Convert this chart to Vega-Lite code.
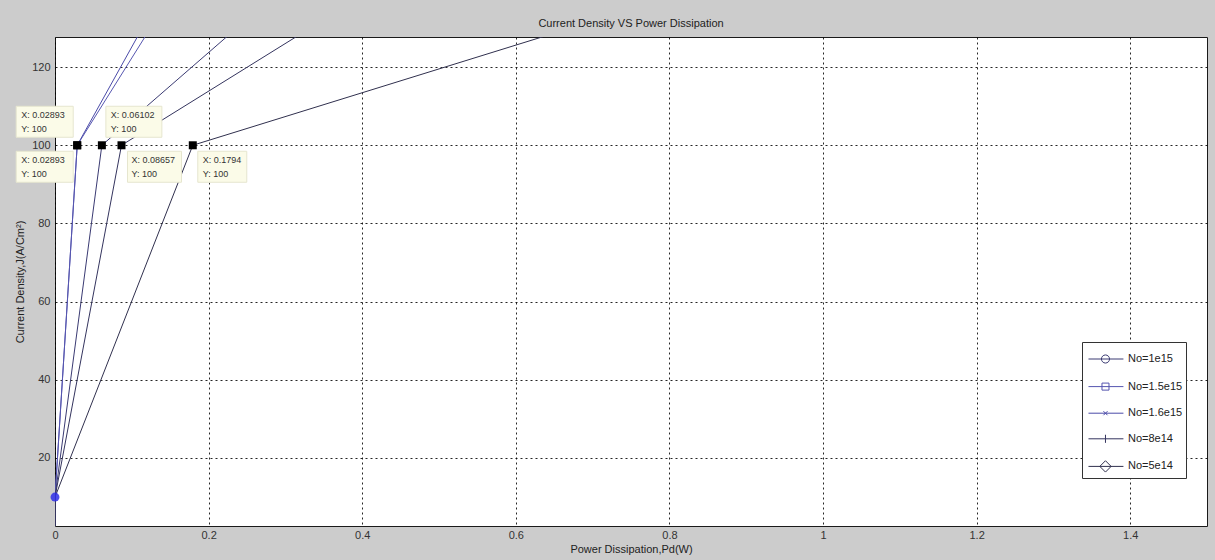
{
  "$schema": "https://vega.github.io/schema/vega-lite/v6.json",
  "width": 1152,
  "height": 489,
  "autosize": {"type": "none"},
  "padding": {"left": 55, "top": 37, "right": 8, "bottom": 34},
  "background": "#cccccc",
  "config": {
    "view": {"fill": "#ffffff", "stroke": "#1a1a1a", "strokeWidth": 1},
    "font": "Liberation Sans"
  },
  "title": {"text": "Current Density VS Power Dissipation", "fontSize": 11, "fontWeight": "normal", "color": "#222222", "offset": 8, "font": "Liberation Sans"},
  "data": {
    "values": [
      {"series": "No=1.6e15", "Pd": 0, "J": 1},
      {"series": "No=1.6e15", "Pd": 0, "J": 10},
      {"series": "No=1.6e15", "Pd": 0.02893, "J": 100},
      {"series": "No=1.6e15", "Pd": 0.108, "J": 128},
      {"series": "No=1.5e15", "Pd": 0, "J": 1},
      {"series": "No=1.5e15", "Pd": 0, "J": 10},
      {"series": "No=1.5e15", "Pd": 0.02893, "J": 100},
      {"series": "No=1.5e15", "Pd": 0.118, "J": 128},
      {"series": "No=1e15", "Pd": 0, "J": 1},
      {"series": "No=1e15", "Pd": 0, "J": 10},
      {"series": "No=1e15", "Pd": 0.06102, "J": 100},
      {"series": "No=1e15", "Pd": 0.225, "J": 128},
      {"series": "No=8e14", "Pd": 0, "J": 1},
      {"series": "No=8e14", "Pd": 0, "J": 10},
      {"series": "No=8e14", "Pd": 0.08657, "J": 100},
      {"series": "No=8e14", "Pd": 0.316, "J": 128},
      {"series": "No=5e14", "Pd": 0, "J": 1},
      {"series": "No=5e14", "Pd": 0, "J": 10},
      {"series": "No=5e14", "Pd": 0.1794, "J": 100},
      {"series": "No=5e14", "Pd": 0.639, "J": 128}
    ]
  },
  "encoding": {
    "x": {
      "field": "Pd", "type": "quantitative",
      "scale": {"domain": [0, 1.5], "nice": false, "zero": false},
      "axis": {
        "title": "Power Dissipation,Pd(W)",
        "values": [0, 0.2, 0.4, 0.6, 0.8, 1, 1.2, 1.4],
        "format": "~g",
        "labelFlush": false,
        "grid": true, "gridDash": [2, 3], "gridColor": "#000000", "gridOpacity": 0.85,
        "ticks": false, "domain": false,
        "labelFont": "Liberation Sans", "labelFontSize": 11, "labelColor": "#333333", "labelPadding": 3,
        "titleFont": "Liberation Sans", "titleFontSize": 11, "titleFontWeight": "normal", "titleColor": "#222222", "titlePadding": 3
      }
    },
    "y": {
      "field": "J", "type": "quantitative",
      "scale": {"domain": [2.6, 127.7], "nice": false, "zero": false},
      "axis": {
        "title": "Current Density,J(A/Cm²)",
        "values": [20, 40, 60, 80, 100, 120],
        "grid": true, "gridDash": [2, 3], "gridColor": "#000000", "gridOpacity": 0.85,
        "ticks": false, "domain": false,
        "labelFont": "Liberation Sans", "labelFontSize": 11, "labelColor": "#333333", "labelPadding": 5,
        "titleFont": "Liberation Sans", "titleFontSize": 11, "titleFontWeight": "normal", "titleColor": "#222222", "titlePadding": 6
      }
    },
    "color": {
      "field": "series", "type": "nominal",
      "scale": {
        "domain": ["No=1e15", "No=1.5e15", "No=1.6e15", "No=8e14", "No=5e14"],
        "range": ["#3a3a72", "#5656b0", "#4a4aa8", "#34345e", "#30304e"]
      },
      "legend": {
        "orient": "none", "legendX": 1027, "legendY": 305,
        "title": null,
        "strokeColor": "#333333", "fillColor": "#ffffff", "padding": 3,
        "symbolSize": 729, "symbolStrokeWidth": 1, "symbolFillColor": "transparent",
        "labelFont": "Liberation Sans", "labelFontSize": 11, "labelColor": "#222222", "labelOffset": 15,
        "rowPadding": 6.6,
        "encode": {"symbols": {"update": {"stroke": {"value": "#262660"}}}}
      }
    }
  },
  "layer": [
    {
      "mark": {"type": "line", "strokeWidth": 1, "clip": true},
      "encoding": {
        "order": {"field": "J", "type": "quantitative"}
      }
    },
    {
      "transform": [{"filter": "datum.J == 1"}],
      "mark": {"type": "point", "filled": false, "clip": true, "size": 729, "strokeWidth": 1, "opacity": 1},
      "encoding": {
        "shape": {
          "field": "series", "type": "nominal",
          "scale": {
            "domain": ["No=1e15", "No=1.5e15", "No=1.6e15", "No=8e14", "No=5e14"],
            "range": [
              "M-0.78,0H1.81M0.78,0A0.3,0.3 0 1 1 0.18,0A0.3,0.3 0 1 1 0.78,0",
              "M-0.78,0H1.81M0.22,-0.26H0.74V0.26H0.22Z",
              "M-0.78,0H1.81M0.33,-0.15L0.63,0.15M0.33,0.15L0.63,-0.15",
              "M-0.78,0H1.81M0.48,-0.3V0.3",
              "M-0.78,0H1.81M0.48,-0.42L0.9,0L0.48,0.42L0.06,0Z"
            ]
          },
          "legend": {
            "orient": "none", "legendX": 1027, "legendY": 305,
            "title": null,
            "strokeColor": "#333333", "fillColor": "#ffffff", "padding": 3,
            "symbolSize": 729, "symbolStrokeWidth": 1, "symbolFillColor": "transparent",
            "labelFont": "Liberation Sans", "labelFontSize": 11, "labelColor": "#222222", "labelOffset": 15,
            "rowPadding": 6.6,
            "encode": {"symbols": {"update": {"stroke": {"value": "#262660"}}}}
          }
        }
      }
    },
    {
      "transform": [{"filter": "datum.series == 'No=1e15' && datum.J == 10"}],
      "mark": {"type": "point", "shape": "circle", "filled": true, "size": 80, "opacity": 0.85, "clip": false},
      "encoding": {"color": {"value": "#2f2fe8"}}
    },
    {
      "transform": [{"filter": "datum.J == 100 && datum.series == 'No=1.6e15'"}],
      "mark": {"type": "rect", "clip": false, "stroke": "#e6e6cf", "strokeWidth": 1, "xOffset": -61, "x2Offset": -4, "yOffset": -39, "y2Offset": -8},
      "encoding": {"x2": {"field": "Pd"}, "y2": {"field": "J"}, "color": {"value": "#fbfbe8"}}
    },
    {
      "transform": [{"filter": "datum.J == 100 && datum.series == 'No=1.5e15'"}],
      "mark": {"type": "rect", "clip": false, "stroke": "#e6e6cf", "strokeWidth": 1, "xOffset": -61, "x2Offset": -4, "yOffset": 6, "y2Offset": 37},
      "encoding": {"x2": {"field": "Pd"}, "y2": {"field": "J"}, "color": {"value": "#fbfbe8"}}
    },
    {
      "transform": [{"filter": "datum.J == 100 && datum.series == 'No=1e15'"}],
      "mark": {"type": "rect", "clip": false, "stroke": "#e6e6cf", "strokeWidth": 1, "xOffset": 4, "x2Offset": 60, "yOffset": -39, "y2Offset": -8},
      "encoding": {"x2": {"field": "Pd"}, "y2": {"field": "J"}, "color": {"value": "#fbfbe8"}}
    },
    {
      "transform": [{"filter": "datum.J == 100 && datum.series == 'No=8e14'"}],
      "mark": {"type": "rect", "clip": false, "stroke": "#e6e6cf", "strokeWidth": 1, "xOffset": 6, "x2Offset": 60, "yOffset": 6, "y2Offset": 37},
      "encoding": {"x2": {"field": "Pd"}, "y2": {"field": "J"}, "color": {"value": "#fbfbe8"}}
    },
    {
      "transform": [{"filter": "datum.J == 100 && datum.series == 'No=5e14'"}],
      "mark": {"type": "rect", "clip": false, "stroke": "#e6e6cf", "strokeWidth": 1, "xOffset": 5, "x2Offset": 54, "yOffset": 6, "y2Offset": 37},
      "encoding": {"x2": {"field": "Pd"}, "y2": {"field": "J"}, "color": {"value": "#fbfbe8"}}
    },
    {
      "transform": [
        {"filter": "datum.J == 100 && datum.series == 'No=1.6e15'"},
        {"calculate": "'X: ' + format(datum.Pd, '.4~g') + '\\n' + 'Y: ' + datum.J", "as": "tip"}
      ],
      "mark": {"type": "text", "clip": false, "align": "left", "baseline": "top", "dx": -56, "dy": -34, "fontSize": 9, "font": "Liberation Sans", "lineBreak": "\n", "lineHeight": 14},
      "encoding": {"text": {"field": "tip"}, "color": {"value": "#333333"}}
    },
    {
      "transform": [
        {"filter": "datum.J == 100 && datum.series == 'No=1.5e15'"},
        {"calculate": "'X: ' + format(datum.Pd, '.4~g') + '\\n' + 'Y: ' + datum.J", "as": "tip"}
      ],
      "mark": {"type": "text", "clip": false, "align": "left", "baseline": "top", "dx": -56, "dy": 11, "fontSize": 9, "font": "Liberation Sans", "lineBreak": "\n", "lineHeight": 14},
      "encoding": {"text": {"field": "tip"}, "color": {"value": "#333333"}}
    },
    {
      "transform": [
        {"filter": "datum.J == 100 && datum.series == 'No=1e15'"},
        {"calculate": "'X: ' + format(datum.Pd, '.4~g') + '\\n' + 'Y: ' + datum.J", "as": "tip"}
      ],
      "mark": {"type": "text", "clip": false, "align": "left", "baseline": "top", "dx": 9, "dy": -34, "fontSize": 9, "font": "Liberation Sans", "lineBreak": "\n", "lineHeight": 14},
      "encoding": {"text": {"field": "tip"}, "color": {"value": "#333333"}}
    },
    {
      "transform": [
        {"filter": "datum.J == 100 && (datum.series == 'No=8e14' || datum.series == 'No=5e14')"},
        {"calculate": "'X: ' + format(datum.Pd, '.4~g') + '\\n' + 'Y: ' + datum.J", "as": "tip"}
      ],
      "mark": {"type": "text", "clip": false, "align": "left", "baseline": "top", "dx": 10, "dy": 11, "fontSize": 9, "font": "Liberation Sans", "lineBreak": "\n", "lineHeight": 14},
      "encoding": {"text": {"field": "tip"}, "color": {"value": "#333333"}}
    },
    {
      "transform": [{"filter": "datum.J == 100"}],
      "mark": {"type": "point", "shape": "square", "filled": true, "size": 64, "opacity": 1, "clip": false},
      "encoding": {"color": {"value": "#000000"}}
    }
  ]
}
